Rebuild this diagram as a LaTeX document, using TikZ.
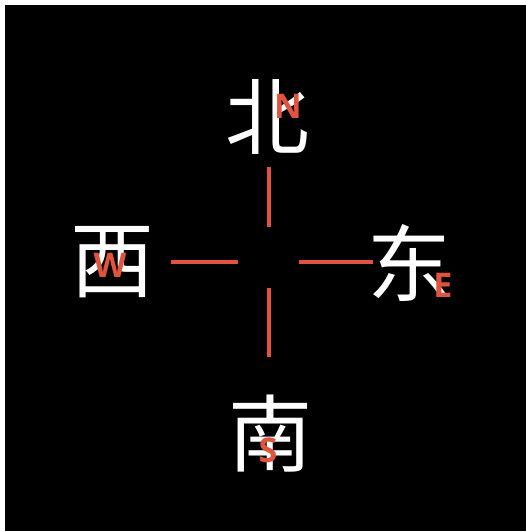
\documentclass[tikz,border=0pt]{standalone}
\usepackage{fontspec}
\newfontfamily\cjk{Noto Sans CJK SC}
\newfontfamily\latinbold{Open Sans}[BoldFont={Open Sans Bold}]
\definecolor{accent}{RGB}{222,84,62}
\tikzset{
  hanzi/.style={text=white, inner sep=0pt, font=\cjk\fontsize{84}{84}\selectfont},
  letter/.style={text=accent, inner sep=0pt, font=\latinbold\bfseries\fontsize{34}{34}\selectfont},
  tick/.style={draw=accent, line width=4.5pt}
}
\begin{document}
\begin{tikzpicture}[x=1pt,y=-1pt]
\useasboundingbox (0,0) rectangle (526,531);
\fill[white] (0,0) rectangle (526,531);
\fill[black] (5,5) rectangle (526,531);
% characters
\node[hanzi] (bei) at (267,117) {北};
\node[hanzi] (xi) at (112,262) {西};
\node[hanzi] (dong) at (409,263) {东};
\node[hanzi] (nan) at (270,434) {南};
% letters
\node[letter] (N) at (288,106) {N};
\node[letter] (W) at (110,265) {W};
\node[letter] (E) at (443,285) {E};
\node[letter] (S) at (268,450) {S};
% cross
\coordinate (nt) at (269,167); \coordinate (nb) at (269,227);
\coordinate (st) at (269,288); \coordinate (sb) at (269,357);
\coordinate (wl) at (171,262); \coordinate (wr) at (238,262);
\coordinate (el) at (299,262); \coordinate (er) at (373,262);
\draw[tick] (nt) -- (nb);
\draw[tick] (st) -- (sb);
\draw[tick] (wl) -- (wr);
\draw[tick] (el) -- (er);
\end{tikzpicture}
\end{document}
